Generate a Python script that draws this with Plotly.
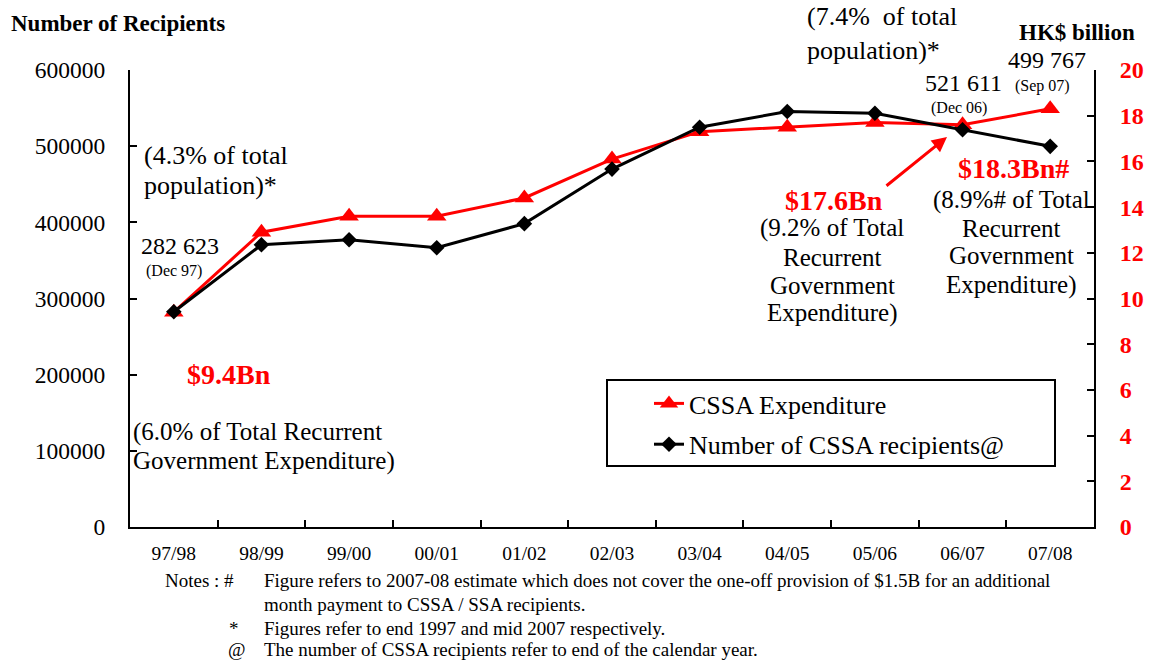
import plotly.graph_objects as go

years = ["97/98", "98/99", "99/00", "00/01", "01/02", "02/03", "03/04", "04/05", "05/06", "06/07", "07/08"]
expenditure_bn = [9.4, 12.9, 13.6, 13.6, 14.4, 16.1, 17.3, 17.5, 17.7, 17.6, 18.3]
recipients = [282623, 370500, 377200, 366600, 398300, 469900, 524900, 545500, 543300, 521611, 499767]
left_ticks = [0, 100000, 200000, 300000, 400000, 500000, 600000]
right_ticks = [0, 2, 4, 6, 8, 10, 12, 14, 16, 18, 20]

W, H = 1149, 662
L, R, T, B = 130, 1094, 70, 527
FONT = "Liberation Serif"
RED = "#FF0000"


def px(x):
    return (x - L) / (R - L)


def py(y):
    return (B - y) / (B - T)


fig = go.Figure()
fig.add_trace(go.Scatter(
    x=years, y=expenditure_bn, name="CSSA Expenditure", mode="lines+markers",
    line=dict(color=RED, width=3), marker=dict(symbol="triangle-up", size=17, color=RED),
    yaxis="y", legendgroup="a"))
fig.add_trace(go.Scatter(
    x=years, y=recipients, name="Number of CSSA recipients@", mode="lines+markers",
    line=dict(color="black", width=3), marker=dict(symbol="diamond", size=12, color="black"),
    yaxis="y2", legendgroup="b"))

annos = []


def txt(text, x, y, size=22, color="black", bold=False, xanchor="left"):
    if bold:
        text = "<b>" + text + "</b>"
    annos.append(dict(text=text, x=px(x), y=py(y), xref="paper", yref="paper",
                      xanchor=xanchor, yanchor="middle", showarrow=False,
                      font=dict(family=FONT, size=size, color=color)))


def lines(texts, x, ys, size=25, xanchor="left"):
    for t, y in zip(texts, ys):
        txt(t, x, y, size=size, xanchor=xanchor)


txt("Number of Recipients", 9, 24, size=23, bold=True)
txt("HK$ billion", 1077, 33, size=23, bold=True, xanchor="center")
lines(["(4.3% of total", "population)*"], 142, [155, 185], size=26)
txt("282 623", 139, 246, size=24)
txt("(Dec 97)", 144, 271, size=16)
txt("$9.4Bn", 185, 374, size=28, color=RED, bold=True)
lines(["(6.0% of Total Recurrent", "Government Expenditure)"], 131, [432, 461], size=25)
lines(["(7.4%&nbsp; of total", "population)*"], 805, [17, 50], size=26)
txt("521 611", 923, 83, size=24)
txt("(Dec 06)", 929, 108, size=16)
txt("499 767", 1006, 60, size=24)
txt("(Sep 07)", 1013, 86, size=16)
txt("$17.6Bn", 834, 200, size=28, color=RED, bold=True, xanchor="center")
lines(["(9.2% of Total", "Recurrent", "Government", "Expenditure)"], 832,
      [228, 257, 285, 313], size=25, xanchor="center")
txt("$18.3Bn#", 1013, 168, size=28, color=RED, bold=True, xanchor="center")
lines(["(8.9%# of Total", "Recurrent", "Government", "Expenditure)"], 1011,
      [200, 228, 256, 285], size=25, xanchor="center")

# notes
NS = 19
txt("Notes : #", 163, 580, size=NS)
txt("Figure refers to 2007-08 estimate which does not cover the one-off provision of $1.5B for an additional",
    262, 580, size=NS)
txt("month payment to CSSA / SSA recipients.", 262, 604, size=NS)
txt("*", 227, 628, size=NS)
txt("Figures refer to end 1997 and mid 2007 respectively.", 262, 628, size=NS)
txt("@", 226, 649, size=NS)
txt("The number of CSSA recipients refer to end of the calendar year.", 262, 649, size=NS)

# arrow
annos.append(dict(x=px(947), y=py(137), xref="paper", yref="paper", text="", showarrow=True,
                  ax=885 - 947, ay=187 - 137, arrowcolor=RED, arrowwidth=3, arrowhead=2,
                  arrowsize=1))

fig.update_layout(
    width=W, height=H,
    margin=dict(l=L, r=W - R, t=T, b=H - B, pad=0, autoexpand=False),
    paper_bgcolor="white", plot_bgcolor="white",
    font=dict(family=FONT, color="black"),
    annotations=annos,
    showlegend=True,
    legend=dict(x=px(649), y=py(380), xanchor="left", yanchor="top",
                font=dict(family=FONT, size=26), bgcolor="rgba(0,0,0,0)",
                borderwidth=0, tracegroupgap=4, itemwidth=30),
    shapes=[dict(type="rect", xref="paper", yref="paper", x0=px(607), x1=px(1055),
                 y0=py(380), y1=py(466), line=dict(color="black", width=2))],
    xaxis=dict(type="category", range=[-0.5, 10.5], showline=True, linecolor="black",
               linewidth=2, ticks="inside", tickson="boundaries", ticklen=7, tickwidth=1.5,
               tickcolor="black", showgrid=False, zeroline=False, automargin=False,
               tickfont=dict(family=FONT, size=19.5), ticklabelstandoff=8),
    yaxis=dict(side="right", range=[0, 20], tickvals=right_ticks, showline=True,
               linecolor="black", linewidth=2, ticks="inside", ticklen=7, tickwidth=1.5,
               tickcolor="black", showgrid=False, zeroline=False, automargin=False,
               tickfont=dict(family=FONT, size=24, color=RED, weight="bold"),
               ticklabelstandoff=19),
    yaxis2=dict(side="left", overlaying="y", range=[0, 600000], tickvals=left_ticks,
                tickformat="d", showline=True, linecolor="black", linewidth=2,
                ticks="inside", ticklen=7, tickwidth=1.5, tickcolor="black",
                showgrid=False, zeroline=False, automargin=False,
                tickfont=dict(family=FONT, size=23.5), ticklabelstandoff=18),
)

fig.write_html("out.html", config={"displayModeBar": False},
               post_script="document.body.style.margin='0';")
